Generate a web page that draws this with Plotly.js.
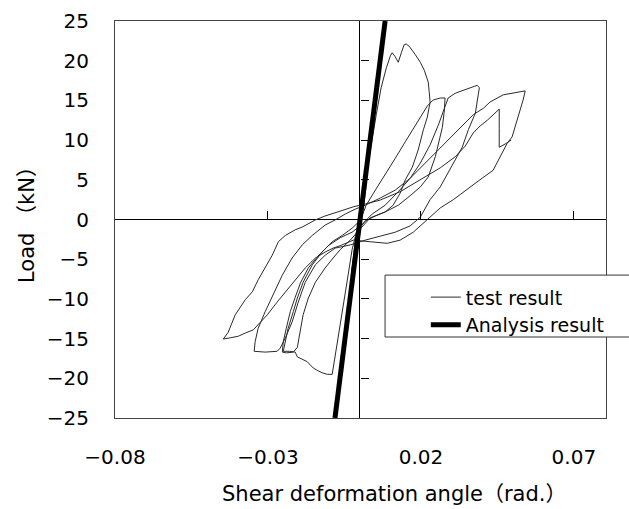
<!DOCTYPE html>
<html>
<head>
<meta charset="utf-8">
<script src="https://cdn.plot.ly/plotly-3.0.1.min.js"></script>
<style>html,body{margin:0;padding:0;background:#fff;}</style>
</head>
<body>
<div id="chart" style="width:629px;height:509px;"></div>
<script>
// ---- data ----
var xRange = [-0.08, 0.0805];
var yRange = [-25, 25];
var xTickVals = [-0.08, -0.03, 0.02, 0.07];
var yTickVals = [-25, -20, -15, -10, -5, 0, 5, 10, 15, 20, 25];

// analysis result (straight line through the origin)
var analysisX = [-0.0081, 0.0083];
var analysisY = [-25, 25];

// test result (hysteresis loops), shear deformation angle (rad.)
var testX = [
 0, 0.0012, 0.0025, 0.0014, 0.0002, -0.0012, -0.0026, -0.0013, 0.0003,
 0.0008, 0.0021, 0.0038, 0.0054, 0.0070, 0.0087, 0.0100, 0.0106, 0.0116, 0.0126, 0.0136, 0.0145, 0.0152, 0.0162, 0.0181, 0.0198, 0.0211, 0.0224, 0.0227, 0.0230,
 0.0221, 0.0208, 0.0191, 0.0172, 0.0149, 0.0132, 0.0109, 0.0083, 0.0051, 0.0018,
 -0.0011, -0.0025, -0.0038, -0.0051, -0.0064, -0.0074, -0.0083, -0.0087, -0.0090, -0.0106, -0.0123, -0.0139, -0.0152, -0.0172, -0.0188, -0.0204, -0.0211, -0.0230, -0.0250,
 -0.0243, -0.0234, -0.0217, -0.0204, -0.0185, -0.0155, -0.0123, -0.0090, -0.0057, -0.0025, 0.0002,
 0.0021, 0.0051, 0.0083, 0.0116, 0.0149, 0.0181, 0.0204, 0.0221, 0.0240, 0.0263, 0.0279,
 0.0276, 0.0270, 0.0257, 0.0247, 0.0224, 0.0198, 0.0165, 0.0126, 0.0083, 0.0034,
 -0.0031, -0.0064, -0.0087, -0.0113, -0.0145, -0.0168, -0.0185, -0.0194, -0.0204, -0.0217, -0.0240, -0.0253,
 -0.0250, -0.0240, -0.0227, -0.0211, -0.0194, -0.0168, -0.0136, -0.0103, -0.0064, -0.0025, 0.0008,
 0.0041, 0.0083, 0.0126, 0.0165, 0.0198, 0.0230, 0.0257, 0.0276, 0.0289, 0.0312, 0.0348, 0.0384, 0.0391,
 0.0387, 0.0378, 0.0355, 0.0335, 0.0312, 0.0286, 0.0263, 0.0230, 0.0214, 0.0198,
 0.0165, 0.0116, 0.0067, 0.0018, -0.0031, -0.0080, -0.0113, -0.0145, -0.0178, -0.0201, -0.0221, -0.0243, -0.0260, -0.0270, -0.0309, -0.0345,
 -0.0342, -0.0332, -0.0309, -0.0283, -0.0253, -0.0221, -0.0188, -0.0155, -0.0113, -0.0080, -0.0047, -0.0015,
 0.0018, 0.0067, 0.0116, 0.0165, 0.0214, 0.0263, 0.0302, 0.0328, 0.0371, 0.0404, 0.0426, 0.0469, 0.0498, 0.0525, 0.0541,
 0.0534, 0.0518, 0.0498, 0.0482, 0.0459, 0.0436, 0.0400, 0.0361, 0.0306, 0.0263, 0.0221, 0.0175, 0.0132, 0.0090, 0.0034, -0.0021,
 -0.0064, -0.0087, -0.0113, -0.0145, -0.0178, -0.0211, -0.0237, -0.0270, -0.0302, -0.0332, -0.0348, -0.0374, -0.0397, -0.0423, -0.0446,
 -0.0430, -0.0407, -0.0374, -0.0351, -0.0332, -0.0309, -0.0286, -0.0266, -0.0243, -0.0211, -0.0188, -0.0145, -0.0113, -0.0064, -0.0021,
 0.0018, 0.0067, 0.0132, 0.0198, 0.0263, 0.0312, 0.0345, 0.0371, 0.0394, 0.0417, 0.0436, 0.0456, 0.0456, 0.0456, 0.0475, 0.0495
];
// test result, load (kN)
var testY = [
 0, 3.0, 6.0, 2.0, 0.2, -3.0, -6.5, -2.2, 0.3,
 2.5, 5.6, 9.4, 13.2, 16.6, 19.1, 20.6, 21.0, 20.5, 19.8, 21.0, 22.0, 22.1, 21.8, 20.8, 19.8, 18.8, 17.3, 16.1, 14.8,
 12.9, 11.3, 8.75, 6.6, 5.0, 3.3, 1.8, 0.95, 0.45, -0.2,
 -1.6, -3.8, -7.0, -10.1, -12.9, -15.2, -17.4, -18.7, -19.5, -19.5, -19.3, -19.0, -18.7, -17.9, -17.6, -17.3, -16.7, -16.6, -16.6,
 -15.4, -13.7, -11.6, -9.9, -7.9, -5.7, -4.1, -2.8, -2.0, -1.1, -0.1,
 1.8, 3.7, 5.6, 7.7, 9.8, 11.8, 13.4, 14.3, 15.05, 15.3, 15.3,
 13.5, 11.6, 9.4, 7.9, 5.35, 4.1, 3.0, 1.8, 0.95, 0.2,
 -2.6, -3.8, -4.85, -6.1, -7.9, -9.9, -12.0, -14.2, -16.1, -16.7, -16.8, -16.7,
 -15.4, -13.7, -11.6, -9.8, -8.0, -6.1, -4.6, -3.3, -2.3, -1.6, -0.6,
 0.7, 1.8, 3.5, 5.2, 7.1, 9.4, 11.9, 14.0, 15.3, 15.9, 16.4, 16.9, 16.6,
 15.4, 13.4, 11.3, 9.1, 7.5, 5.6, 4.1, 2.5, 1.45, 0.3,
 -0.8, -1.6, -2.1, -2.6, -3.2, -3.6, -4.5, -5.7, -7.9, -10.4, -12.9, -14.9, -16.2, -16.6, -16.7, -16.6,
 -15.4, -13.7, -11.6, -9.5, -7.0, -4.85, -3.2, -2.0, -0.7, -0.05, 0.7, 1.3,
 1.8, 2.7, 3.7, 5.2, 7.1, 9.0, 10.5, 11.5, 13.2, 14.0, 14.8, 15.7, 15.9, 16.1, 16.2,
 15.05, 12.9, 10.4, 9.6, 7.9, 6.2, 5.2, 4.1, 2.5, 1.45, -0.05, -1.6, -2.6, -3.0, -2.8, -2.6,
 -3.3, -3.6, -4.1, -4.85, -6.1, -7.6, -8.9, -10.4, -12.0, -13.3, -13.9, -14.3, -14.7, -14.9, -15.05,
 -14.2, -12.0, -10.1, -9.1, -7.6, -6.1, -4.5, -2.8, -2.0, -1.3, -0.95, -0.05, 0.45, 1.05, 1.6,
 1.95, 2.45, 3.5, 5.0, 6.5, 7.9, 9.25, 10.9, 11.8, 12.5, 13.2, 13.9, 11.5, 9.1, 9.5, 10.0
];

var seriesNames = ['test result', 'Analysis result'];
var xTitle = 'Shear deformation angle（rad.）';
var yTitle = 'Load （kN）';

// ---- drawing ----
var FONT = '"DejaVu Sans", "Noto Sans CJK JP", sans-serif';

var traces = [
  {
    x: testX, y: testY, type: 'scatter', mode: 'lines', name: seriesNames[0],
    line: {color: '#2a2a2a', width: 1}, hoverinfo: 'skip'
  },
  {
    x: analysisX, y: analysisY, type: 'scatter', mode: 'lines', name: seriesNames[1],
    line: {color: '#000', width: 5}, hoverinfo: 'skip'
  },
  {x: [], y: [], xaxis: 'x2', yaxis: 'y', showlegend: false, hoverinfo: 'skip'},
  {x: [], y: [], xaxis: 'x', yaxis: 'y2', showlegend: false, hoverinfo: 'skip'}
];

var zeroXFrac = (0 - xRange[0]) / (xRange[1] - xRange[0]);
var zeroYFrac = (0 - yRange[0]) / (yRange[1] - yRange[0]);

var layout = {
  width: 629, height: 509,
  margin: {l: 115, r: 23, t: 21, b: 91},
  paper_bgcolor: '#fff', plot_bgcolor: '#fff',
  font: {family: FONT, color: '#000'},
  showlegend: true,
  xaxis: {
    range: xRange, tickvals: xTickVals, tickformat: '.2f',
    ticks: 'outside', ticklen: 21, tickcolor: 'rgba(0,0,0,0)',
    showline: true, mirror: true, linecolor: '#444', linewidth: 1,
    zeroline: true, zerolinecolor: '#000', zerolinewidth: 1,
    showgrid: false, fixedrange: true,
    tickfont: {family: FONT, size: 20, color: '#000'}
  },
  yaxis: {
    range: yRange, tickvals: yTickVals,
    ticks: 'outside', ticklen: 21, tickcolor: 'rgba(0,0,0,0)',
    showline: true, mirror: true, linecolor: '#444', linewidth: 1,
    zeroline: true, zerolinecolor: '#000', zerolinewidth: 1,
    showgrid: false, fixedrange: true,
    tickfont: {family: FONT, size: 20, color: '#000'},
    title: {text: yTitle, font: {family: FONT, size: 21, color: '#000'}, standoff: 6}
  },
  xaxis2: {
    overlaying: 'x', anchor: 'free', position: zeroYFrac, range: xRange,
    tickvals: xTickVals, ticks: 'inside', ticklen: 9, tickcolor: '#000', tickwidth: 1,
    showticklabels: false, showline: false, zeroline: false, showgrid: false, fixedrange: true
  },
  yaxis2: {
    overlaying: 'y', anchor: 'free', position: zeroXFrac, side: 'left', range: yRange,
    tickvals: yTickVals, ticks: 'inside', ticklen: 8, tickcolor: '#000', tickwidth: 1,
    showticklabels: false, showline: false, zeroline: false, showgrid: false, fixedrange: true
  },
  legend: {
    x: 0.633, y: 0.352, xanchor: 'left', yanchor: 'top',
    bgcolor: 'rgba(0,0,0,0)', borderwidth: 0,
    font: {family: FONT, size: 19, color: '#000'}
  },
  shapes: [{
    type: 'rect', xref: 'paper', yref: 'paper',
    x0: 0.55, x1: 1.2, y0: 0.204, y1: 0.36,
    fillcolor: '#fff', line: {color: '#333', width: 1}, layer: 'above'
  }],
  annotations: [{
    text: xTitle, xref: 'paper', yref: 'paper', x: 0.57, y: -0.192,
    xanchor: 'center', yanchor: 'middle', showarrow: false,
    font: {family: FONT, size: 21, color: '#000'}
  }]
};

Plotly.newPlot('chart', traces, layout, {displayModeBar: false, staticPlot: true});
</script>
</body>
</html>
